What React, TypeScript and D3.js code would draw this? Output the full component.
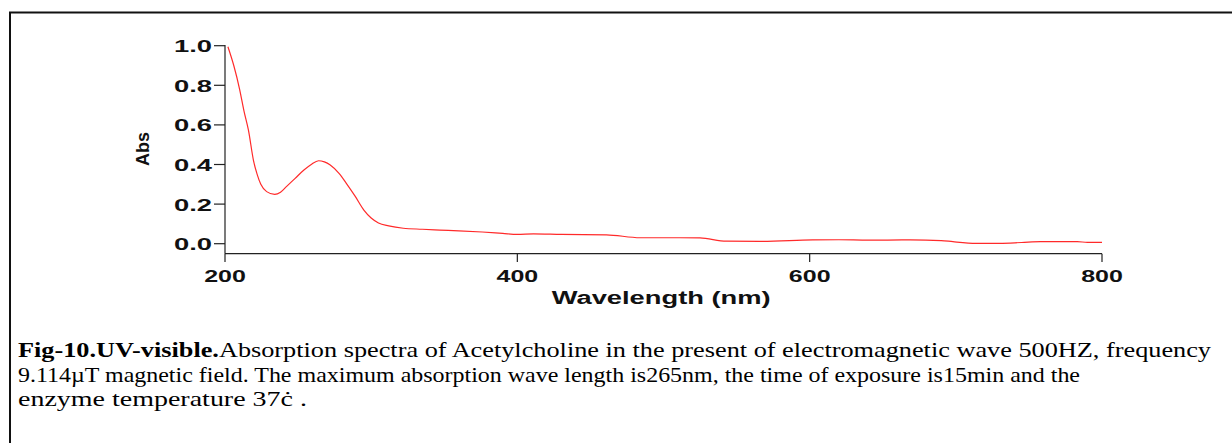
import React from "react";
import * as d3 from "d3";

// Absorption spectrum of acetylcholine (wavelength in nm, absorbance)
const wavelengths = [
  202, 206, 210, 213, 216, 219.5, 222, 224.5, 228.5, 234, 238, 242, 248, 254, 259, 264, 268, 272,
  278, 283, 289, 295, 300, 305, 312, 322, 335, 347, 360, 376, 390, 400, 411, 430, 461, 484, 511,
  525, 543, 566, 602, 620, 640, 669, 690, 698, 714, 730, 745, 758, 783, 790, 800,
];
const absorbance = [
  0.995, 0.9, 0.78, 0.67, 0.575, 0.42, 0.35, 0.3, 0.263, 0.249, 0.26, 0.288, 0.33, 0.372, 0.4,
  0.419, 0.413, 0.397, 0.355, 0.305, 0.24, 0.17, 0.13, 0.105, 0.09, 0.078, 0.073, 0.069, 0.065,
  0.059, 0.052, 0.047, 0.05, 0.047, 0.045, 0.03, 0.03, 0.029, 0.013, 0.012, 0.019, 0.02, 0.018,
  0.019, 0.016, 0.01, 0.002, 0.002, 0.006, 0.01, 0.01, 0.007, 0.007,
];

const xTicks = [200, 400, 600, 800];
const yTicks = [0, 0.2, 0.4, 0.6, 0.8, 1.0];
const xTitle = "Wavelength (nm)";
const yTitle = "Abs";

const captionLines = [
  [
    { text: "Fig-10.UV-visible.", bold: true },
    { text: "Absorption spectra of Acetylcholine in the present of electromagnetic wave 500HZ, frequency", bold: false },
  ],
  [{ text: "9.114\u00b5T magnetic field. The maximum absorption wave length is265nm, the time of exposure is15min and the", bold: false }],
  [{ text: "enzyme temperature 37\u010b .", bold: false }],
];
const captionWidths = [1193, 1062, 289];

const W = 1232;
const H = 443;

export default function App() {
  const x = d3.scaleLinear().domain([200, 800]).range([225, 1102]);
  const y = d3.scaleLinear().domain([0, 1]).range([243.7, 45.7]);
  const axisY = 253.7;

  const pts = wavelengths.map((w, i) => [w, absorbance[i]] as [number, number]);
  const line = d3
    .line<[number, number]>()
    .x((d) => x(d[0]))
    .y((d) => y(d[1]))
    .curve(d3.curveMonotoneX);

  const sans = "'Liberation Sans', Arial, sans-serif";
  const serif = "'Times New Roman', 'Liberation Serif', Times, serif";

  return (
    <svg
      width={W}
      height={H}
      style={{ position: "absolute", left: 0, top: 0, background: "#fff" }}
    >
      <rect x={0} y={0} width={W} height={H} fill="#fff" />
      {/* frame */}
      <path d={`M10,${H} V12.5 H${W}`} fill="none" stroke="#111" strokeWidth={2} />

      {/* axes */}
      <line x1={225} x2={225} y1={45} y2={axisY} stroke="#222" strokeWidth={1.2} />
      <line x1={225} x2={x(800)} y1={axisY} y2={axisY} stroke="#222" strokeWidth={1.2} />

      {yTicks.map((t) => (
        <g key={"y" + t}>
          <line x1={214} x2={225} y1={y(t)} y2={y(t)} stroke="#222" strokeWidth={1.2} />
          <text
            x={212}
            y={y(t) + 6.5}
            textAnchor="end"
            fontFamily={sans}
            fontWeight="bold"
            fontSize={16}
            textLength={38}
            lengthAdjust="spacingAndGlyphs"
            fill="#111"
          >
            {t.toFixed(1)}
          </text>
        </g>
      ))}

      {xTicks.map((t) => (
        <g key={"x" + t}>
          <line x1={x(t)} x2={x(t)} y1={axisY} y2={262} stroke="#222" strokeWidth={1.2} />
          <text
            x={x(t) - 20.8}
            y={281.5}
            fontFamily={sans}
            fontWeight="bold"
            fontSize={17}
            textLength={41.7}
            lengthAdjust="spacingAndGlyphs"
            fill="#111"
          >
            {t}
          </text>
        </g>
      ))}

      <text
        x={551.7}
        y={304}
        fontFamily={sans}
        fontWeight="bold"
        fontSize={18}
        textLength={219}
        lengthAdjust="spacingAndGlyphs"
        fill="#111"
      >
        {xTitle}
      </text>
      <text
        transform="translate(148.5,149) rotate(-90)"
        textAnchor="middle"
        fontFamily={sans}
        fontWeight="bold"
        fontSize={18}
        fill="#111"
      >
        {yTitle}
      </text>

      {/* spectrum */}
      <path d={line(pts) || ""} fill="none" stroke="#ff2a2a" strokeWidth={1.2} />

      {/* caption */}
      {captionLines.map((segs, i) => (
        <text
          key={"c" + i}
          x={18}
          y={357 + i * 24.6}
          fontFamily={serif}
          fontSize={22}
          fill="#000"
          textLength={captionWidths[i]}
          lengthAdjust="spacingAndGlyphs"
        >
          {segs.map((s, j) => (
            <tspan key={j} fontWeight={s.bold ? "bold" : "normal"}>
              {s.text}
            </tspan>
          ))}
        </text>
      ))}
    </svg>
  );
}
